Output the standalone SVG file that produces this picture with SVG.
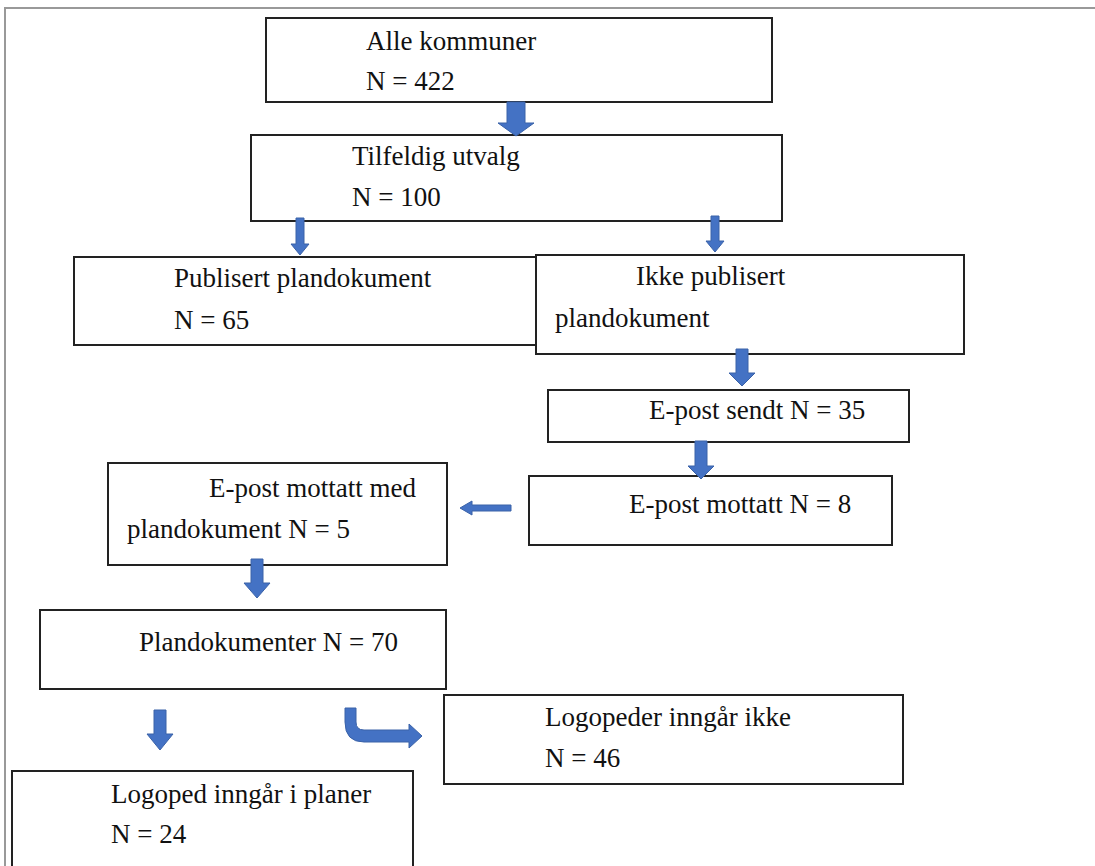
<svg xmlns="http://www.w3.org/2000/svg" width="1095" height="866" viewBox="0 0 1095 866">
<style>
.box{fill:#fff;stroke:#222;stroke-width:2}
.t{font-family:"Liberation Serif","Times New Roman",serif;font-size:27px;fill:#111}
.arr{fill:#4472C4;stroke:#3A62A8;stroke-width:1}
</style>
<rect width="1095" height="866" fill="#fff"/>
<path d="M5,866 V8 H1095" fill="none" stroke="#999" stroke-width="2"/>
<g id="n1"><rect class="box" x="266" y="18" width="506" height="84"/><text class="t" x="366" y="50">Alle kommuner</text><text class="t" x="366" y="90">N = 422</text></g>
<g id="n2"><rect class="box" x="251" y="135" width="531" height="86"/><text class="t" x="352" y="165">Tilfeldig utvalg</text><text class="t" x="352" y="206">N = 100</text></g>
<g id="n3"><rect class="box" x="74" y="257" width="466" height="88"/><text class="t" x="174" y="287">Publisert plandokument</text><text class="t" x="174" y="329">N = 65</text></g>
<g id="n4"><rect class="box" x="536" y="255" width="428" height="99"/><text class="t" x="636" y="285">Ikke publisert</text><text class="t" x="555" y="327">plandokument</text></g>
<g id="n5"><rect class="box" x="548" y="390" width="361" height="52"/><text class="t" x="649" y="419">E-post sendt N = 35</text></g>
<g id="n6"><rect class="box" x="529" y="476" width="363" height="69"/><text class="t" x="629" y="513">E-post mottatt N = 8</text></g>
<g id="n7"><rect class="box" x="108" y="463" width="339" height="102"/><text class="t" x="209" y="497">E-post mottatt med</text><text class="t" x="127" y="538">plandokument N = 5</text></g>
<g id="n8"><rect class="box" x="40" y="610" width="406" height="79"/><text class="t" x="139" y="651">Plandokumenter N = 70</text></g>
<g id="n9"><rect class="box" x="444" y="695" width="459" height="89"/><text class="t" x="545" y="726">Logopeder inngår ikke</text><text class="t" x="545" y="767">N = 46</text></g>
<g id="n10"><rect class="box" x="12" y="771" width="401" height="100"/><text class="t" x="111" y="803">Logoped inngår i planer</text><text class="t" x="111" y="843">N = 24</text></g>
<g id="connectors">
<path class="arr" d="M507,102 H525 V123 H534 L516,136 L498,123 H507 Z"/>
<path class="arr" d="M296,218 H304 V244 H309 L300,255 L291,244 H296 Z"/>
<path class="arr" d="M711,216 H719 V241 H724 L715,252 L706,241 H711 Z"/>
<path class="arr" d="M736,349 H748 V373 H755 L742,386 L729,373 H736 Z"/>
<path class="arr" d="M695,441 H707 V466 H714 L701,479 L688,466 H695 Z"/>
<path class="arr" d="M511,505 H472 V501 L460,508 L472,515 V511 H511 Z"/>
<path class="arr" d="M251,559 H263 V583 H270 L257,598 L244,583 H251 Z"/>
<path class="arr" d="M154,710 H166 V734 H173 L160,750 L147,734 H154 Z"/>
<path class="arr" d="M345,708 H356 V722 Q356,730 364,730 H409 V724 L422,736 L409,748 V742 H364 Q345,742 345,722 Z"/>
</g>
</svg>
